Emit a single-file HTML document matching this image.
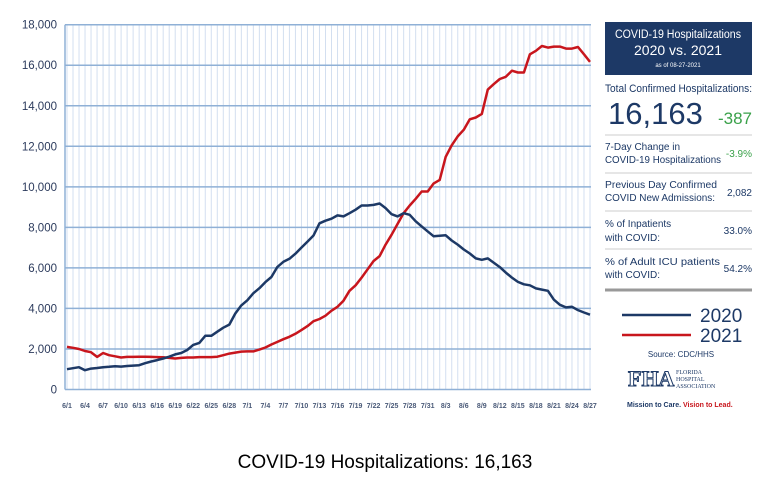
<!DOCTYPE html>
<html><head><meta charset="utf-8"><style>
body{margin:0;background:#fff;width:770px;height:484px;overflow:hidden;font-family:"Liberation Sans",sans-serif}
</style></head><body>
<svg width="770" height="484" viewBox="0 0 770 484" font-family="Liberation Sans, sans-serif">
<g id="grid"></g>
<g id="yt"></g>
<g id="xt"></g>
<g id="lines"></g>

<g>
<rect x="605" y="22" width="147" height="53" fill="#1d3966"/>
<text x="678" y="38" fill="#fff" font-size="11.5" text-anchor="middle" textLength="126" lengthAdjust="spacingAndGlyphs">COVID-19 Hospitalizations</text>
<text x="678" y="55" fill="#fff" font-size="14" text-anchor="middle">2020 vs. 2021</text>
<text x="678" y="67" fill="#fff" font-size="6" text-anchor="middle">as of 08-27-2021</text>
<text x="605" y="92" fill="#1d3966" font-size="11" textLength="147" lengthAdjust="spacingAndGlyphs">Total Confirmed Hospitalizations:</text>
<text x="608" y="124" fill="#1d3966" font-size="31">16,163</text>
<text x="752" y="124" fill="#3aa14a" font-size="17" text-anchor="end">-387</text>
<line x1="605" y1="135" x2="752" y2="135" stroke="#ccc" stroke-width="1"/>
<text x="605" y="150" fill="#1d3966" font-size="10">7-Day Change in</text>
<text x="605" y="163" fill="#1d3966" font-size="10" textLength="116" lengthAdjust="spacingAndGlyphs">COVID-19 Hospitalizations</text>
<text x="752" y="157" fill="#3aa14a" font-size="10" text-anchor="end">-3.9%</text>
<line x1="605" y1="173" x2="752" y2="173" stroke="#ccc"/>
<text x="605" y="188" fill="#1d3966" font-size="10" textLength="112" lengthAdjust="spacingAndGlyphs">Previous Day Confirmed</text>
<text x="605" y="201" fill="#1d3966" font-size="10" textLength="110" lengthAdjust="spacingAndGlyphs">COVID New Admissions:</text>
<text x="752" y="196" fill="#1d3966" font-size="10" text-anchor="end">2,082</text>
<line x1="605" y1="211" x2="752" y2="211" stroke="#ccc"/>
<text x="605" y="227" fill="#1d3966" font-size="10">% of Inpatients</text>
<text x="605" y="241" fill="#1d3966" font-size="10">with COVID:</text>
<text x="752" y="234" fill="#1d3966" font-size="10" text-anchor="end">33.0%</text>
<line x1="605" y1="249" x2="752" y2="249" stroke="#ccc"/>
<text x="605" y="265" fill="#1d3966" font-size="10" textLength="115" lengthAdjust="spacingAndGlyphs">% of Adult ICU patients</text>
<text x="605" y="278" fill="#1d3966" font-size="10">with COVID:</text>
<text x="752" y="272" fill="#1d3966" font-size="10" text-anchor="end">54.2%</text>
<line x1="605" y1="290" x2="752" y2="290" stroke="#999" stroke-width="3"/>
</g>
<g>
<line x1="622" y1="315" x2="691" y2="315" stroke="#1d3966" stroke-width="2.5"/>
<text x="700" y="322" fill="#1d3966" font-size="19">2020</text>
<line x1="622" y1="335" x2="691" y2="335" stroke="#c8161d" stroke-width="2.5"/>
<text x="700" y="342" fill="#1d3966" font-size="19">2021</text>
<text x="681" y="357" fill="#1d3966" font-size="8" text-anchor="middle">Source: CDC/HHS</text>
</g>
<g>
<text x="628" y="386" fill="#fff" stroke="#1d3966" stroke-width="1" font-size="22" font-weight="bold" font-family="Liberation Serif, serif">FHA</text>
<text x="676" y="374" fill="#1d3966" font-size="6" font-family="Liberation Serif, serif">FLORIDA</text>
<text x="676" y="381" fill="#1d3966" font-size="6" font-family="Liberation Serif, serif">HOSPITAL</text>
<text x="676" y="388" fill="#1d3966" font-size="6" font-family="Liberation Serif, serif">ASSOCIATION</text>
<text x="627" y="407" font-size="7" font-weight="bold"><tspan fill="#1d3966">Mission to Care. </tspan><tspan fill="#c8161d">Vision to Lead.</tspan></text>
</g>
<text x="385" y="468" fill="#000" font-size="19" text-anchor="middle">COVID-19 Hospitalizations: 16,163</text>
</svg>
<script>
const dayLabels=[];
const yTicks=[0,2000,4000,6000,8000,10000,12000,14000,16000,18000];
const series2020=[1000,1050,1100,950,1030,1060,1100,1120,1150,1130,1160,1180,1200,1300,1380,1450,1530,1620,1730,1800,1950,2200,2300,2650,2650,2850,3050,3200,3750,4150,
4400,4750,5000,5300,5550,6050,6300,6450,6700,7000,7300,7600,8200,8330,8430,8590,8540,8700,8870,9080,9080,9110,9180,8950,8650,8540,8700,8620,8300,8050,7800,
7560,7590,7610,7350,7150,6910,6710,6470,6400,6470,6250,6040,5770,5520,5310,5190,5140,4990,4930,4870,4430,4180,4050,4080,3920,3800,3690];
const series2021=[2100,2060,2000,1900,1840,1610,1800,1690,1640,1580,1610,1610,1620,1620,1610,1600,1590,1560,1530,1560,1580,1580,1600,1600,1600,1620,1690,1770,1820,1870,
1880,1880,1970,2070,2220,2350,2480,2600,2750,2930,3130,3370,3480,3640,3890,4080,4380,4870,5140,5520,5930,6340,6580,7150,7640,8170,8700,9080,9410,9770,9770,
10170,10340,11480,12050,12490,12820,13330,13420,13600,14800,15070,15320,15430,15730,15640,15640,16540,16710,16950,16870,16920,16920,16820,16820,16900,16540,16163];
for(let d=1;d<=30;d++)dayLabels.push('6/'+d);
for(let d=1;d<=31;d++)dayLabels.push('7/'+d);
for(let d=1;d<=27;d++)dayLabels.push('8/'+d);
const NS='http://www.w3.org/2000/svg';
const X0=67,X1=590,Y0=389.5,Y1=24.7,YMAX=18000;
const xs=i=>X0+(X1-X0)*i/(dayLabels.length-1);
const ys=v=>Y0-(Y0-Y1)*v/YMAX;
function mk(tag,attrs,parent){const e=document.createElementNS(NS,tag);for(const k in attrs)e.setAttribute(k,attrs[k]);parent.appendChild(e);return e;}
const grid=document.getElementById('grid'),yt=document.getElementById('yt'),xt=document.getElementById('xt'),lines=document.getElementById('lines');
dayLabels.forEach((lab,i)=>{
  const l=mk('line',{x1:xs(i),x2:xs(i),y1:Y1,y2:Y0,stroke:'#d3dff0','stroke-width':1},grid);
  
  
  if(i%3===0){
    const t=mk('text',{x:xs(i),y:408,'font-size':7,'font-weight':'bold',fill:'#4a5a78','text-anchor':'middle'},xt);
    t.textContent=lab;
    
    
  }
});
mk('line',{x1:X0-2,x2:X0-2,y1:Y1,y2:Y0,stroke:'#8fb0d6','stroke-width':1.5},grid);
yTicks.forEach(v=>{
  const l=mk('line',{x1:X0-2,x2:X1+1,y1:ys(v),y2:ys(v),stroke:'#8fb0d6','stroke-width':1.5},grid);
  
  
  const t=mk('text',{x:57,y:ys(v)+4,'font-size':11.5,fill:'#2b3a5c','text-anchor':'end'},yt);
  t.textContent=v.toLocaleString('en-US');
  
  
});
function draw(arr,color,name){
  const p=mk('polyline',{points:arr.map((v,i)=>xs(i).toFixed(1)+','+ys(v).toFixed(1)).join(' '),fill:'none',stroke:color,'stroke-width':2.5,'stroke-linejoin':'round'},lines);
  
  
}
draw(series2021,'#c8161d','line-2021');
draw(series2020,'#1d3966','line-2020');
</script>
</body></html>
